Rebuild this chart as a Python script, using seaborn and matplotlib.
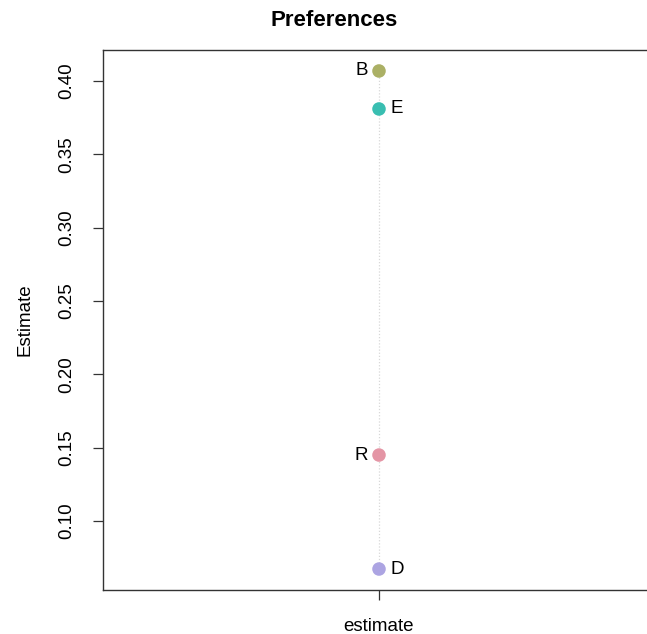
"""
Dot chart of preference estimates, one column of labelled points.
"""
import matplotlib
matplotlib.use("Agg")
import matplotlib.pyplot as plt
import pandas as pd
import seaborn as sns

# data
groups = ["R", "B", "E", "D"]
estimates = [0.145, 0.4068, 0.3809, 0.0673]
colors = ["#E495A5", "#ABB065", "#39BEB1", "#ACA4E2"]
label_side = ["left", "left", "right", "right"]
column = "estimate"
y_ticks = [0.10, 0.15, 0.20, 0.25, 0.30, 0.35, 0.40]

df = pd.DataFrame({"group": groups, "value": estimates, "col": column})

sns.set_style("ticks")
plt.rcParams["font.family"] = ["Liberation Sans", "DejaVu Sans"]
plt.rcParams["text.color"] = "black"
plt.rcParams["axes.labelcolor"] = "black"
plt.rcParams["xtick.labelcolor"] = "black"
plt.rcParams["ytick.labelcolor"] = "black"

fig = plt.figure(figsize=(6.47, 6.34), dpi=100)
ax = fig.add_axes([103 / 647, 44 / 634, 552 / 647, 540 / 634])

# dotted guide line through the column
ax.vlines(0, min(estimates), max(estimates), colors="#d8d8d8",
          linestyles=(0, (1, 1.5)), linewidth=0.9, zorder=1)

sns.scatterplot(data=df, x="col", y="value", hue="group", palette=colors,
                hue_order=groups, s=95, edgecolor="none", legend=False,
                ax=ax, zorder=3)

for g, v, side in zip(groups, estimates, label_side):
    dx = -8 if side == "left" else 8
    ax.annotate(g, (0, v), xytext=(dx, 0), textcoords="offset points",
                ha="right" if side == "left" else "left", va="center",
                fontsize=13.5, color="black")

ax.set_xlim(-1, 1)
ax.set_ylim(0.0530, 0.4211)
ax.set_yticks(y_ticks)
ax.set_yticklabels([f"{t:.2f}" for t in y_ticks], rotation=90, va="center")
ax.set_xticks([0])
ax.set_xticklabels([column])
ax.tick_params(axis="both", direction="out", length=7, width=0.9,
               color="#333333", labelsize=13.5, pad=13)
ax.set_xlabel("")
ax.set_ylabel("Estimate", fontsize=13.5, labelpad=18)
for sp in ax.spines.values():
    sp.set_visible(True)
    sp.set_color("#333333")
    sp.set_linewidth(1.0)

# title sits over the visible part of the panel
fig.text(334 / 647, 1 - 20 / 634, "Preferences", ha="center", va="center",
         fontsize=16, fontweight="bold")

fig.savefig("out.png", dpi=100)
